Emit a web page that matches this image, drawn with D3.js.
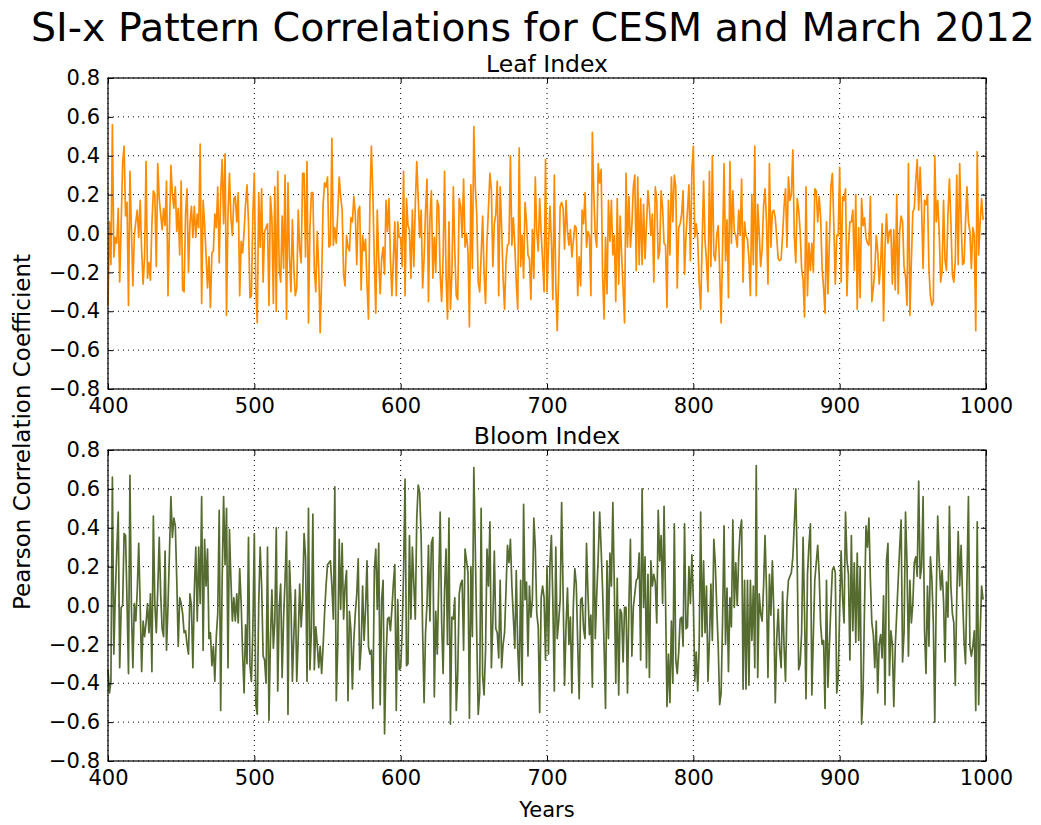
<!DOCTYPE html>
<html>
<head>
<meta charset="utf-8">
<script src="https://cdn.jsdelivr.net/npm/d3@7"></script>
<style>
  body { margin: 0; background: #fff; }
  svg text { font-family: "DejaVu Sans", sans-serif; fill: #000; }
</style>
</head>
<body>
<svg id="chart" width="1041" height="825"></svg>
<script>
// values, one per year from firstYear
const firstYear = 400;

const leafIndex = [
  -0.37, 0.06, -0.16, 0.56, -0.12, -0.02, -0.05, 0.13, -0.25, 0.05,
  0.36, 0.45, 0.09, 0.16, -0.37, 0.32, 0.02, -0.27, -0.01, 0.06,
  0.12, -0.02, 0.17, -0.09, -0.26, -0.12, 0.37, -0.23, -0.15, -0.24,
  0.05, 0.22, 0.20, -0.17, 0.36, 0.18, 0.10, 0.02, 0.13, 0.04,
  0.27, -0.32, 0.02, 0.35, 0.20, 0.13, 0.24, 0.01, 0.13, -0.11,
  0.27, -0.29, -0.30, 0.10, 0.23, -0.20, 0.05, 0.14, -0.02, 0.14,
  -0.02, 0.10, 0.03, 0.46, -0.36, 0.17, 0.05, -0.11, -0.28, -0.12,
  -0.38, -0.10, -0.09, 0.10, 0.03, 0.24, -0.15, 0.20, 0.38, 0.05,
  0.41, -0.42, 0.10, 0.31, 0.08, -0.01, 0.18, 0.19, 0.06, 0.21,
  -0.32, -0.04, -0.10, 0.01, 0.15, 0.25, 0.06, -0.33, -0.32, 0.10,
  0.31,
  -0.28, -0.46, 0.21, -0.07, 0.23, -0.25, 0.01, 0.03, 0.05, -0.37,
  0.19, 0.08, -0.36, 0.24, -0.40, 0.32, -0.18, -0.25, 0.09, -0.18,
  0.30, -0.44, 0.26, -0.12, -0.30, 0.07, -0.18, -0.32, -0.28, 0.12,
  -0.08, -0.15, 0.31, 0.31, -0.12, 0.37, -0.46, 0.03, 0.21, 0.21,
  -0.18, -0.30, 0.01, -0.18, -0.51, -0.23, 0.15, 0.26, 0.24, 0.29,
  -0.07, -0.06, 0.49, -0.06, 0.03, -0.05, 0.10, 0.29, 0.19, 0.12,
  -0.21, -0.27, -0.01, -0.07, -0.09, 0.08, 0.06, 0.19, 0.10, -0.16,
  0.12, 0.14, -0.29, -0.01, -0.09, -0.03, -0.26, -0.44, 0.17, 0.45,
  0.20, -0.14, -0.41, 0.12, -0.13, -0.31, -0.13, -0.07, -0.21, 0.17,
  0.01, 0.18, -0.13, -0.32, -0.13, 0.06,
  -0.32, 0.06, -0.02, -0.02,
  -0.17, 0.32, -0.32, 0.18, 0.04, 0.02, -0.23, 0.12, -0.17, 0.15,
  0.37, 0.18, -0.02, 0.12, -0.28, -0.13, 0.12, 0.28, -0.35, 0.08,
  0.22, -0.23, -0.02, -0.20, 0.17, 0.14, -0.21, -0.35, -0.12, 0.32,
  -0.21, -0.44, 0.06, -0.39, -0.21, 0.24, -0.09, -0.32, -0.34, 0.18,
  0.14, -0.02, 0.28, -0.07, 0.00, -0.09, -0.48, 0.25, -0.18, 0.55,
  0.24, 0.10, -0.25, -0.30, -0.11, 0.09, -0.20, -0.36, -0.04, 0.13,
  0.31, 0.22, -0.17, 0.05, 0.10, 0.27, -0.32, 0.24, 0.03, -0.23,
  -0.39, -0.14, -0.06, -0.05, 0.40, -0.06, 0.08, -0.06, -0.25, -0.39,
  0.44, -0.17, -0.01, -0.23, 0.16, 0.06, -0.11, -0.13, -0.34, 0.02,
  -0.23, 0.29, 0.01, -0.09, 0.18, 0.00, -0.14, -0.30,
  0.38, -0.30,
  -0.07, 0.14, -0.04, -0.34, 0.30, -0.26, -0.50, -0.21, 0.14, 0.16,
  0.13, -0.08, 0.17, 0.01, -0.06, 0.02, -0.12, -0.04, 0.04, 0.03,
  -0.32, -0.12, -0.27, 0.12, 0.05, 0.21, -0.07, 0.01, -0.01, -0.32,
  0.52, 0.20, -0.01, -0.07, 0.36, 0.26, 0.33, -0.21, -0.44, -0.02,
  -0.31, 0.17, -0.04, 0.17, -0.11, -0.01, -0.35, 0.18, -0.26, 0.09,
  -0.11, -0.28, -0.46, 0.31, -0.07, 0.19, -0.07, 0.04, 0.24, 0.30,
  -0.19, 0.29, -0.16, 0.18, -0.16, 0.15, -0.13, 0.05, 0.22, 0.13,
  -0.01, 0.10, -0.25, 0.24, 0.17, -0.13, -0.09, 0.22, 0.13, -0.05,
  -0.06, -0.38, 0.17, -0.11, 0.29, 0.06, 0.30, 0.24, -0.28, 0.03,
  0.05, 0.10, 0.22, -0.21, -0.01, 0.12, 0.25,
  -0.14, 0.32, 0.45,
  -0.02, 0.05, -0.03, -0.25, -0.39, -0.06, 0.27, -0.04, -0.14, -0.30,
  0.32, -0.17, 0.40, -0.11, -0.14, -0.01, 0.04, -0.19, -0.46, -0.07,
  0.36, -0.14, 0.07, -0.33, 0.37, -0.05, 0.22, 0.01, -0.01, -0.07,
  0.12, -0.01, 0.28, -0.25, 0.06, -0.01, -0.03, -0.13, -0.32, 0.20,
  -0.16, 0.45, -0.32, 0.15, 0.01, -0.17, -0.08, 0.14, 0.23, 0.06,
  -0.26, 0.36, -0.07, 0.11, 0.12, 0.08, -0.02, -0.13, -0.14, -0.13,
  -0.01, 0.14, 0.23, -0.07, 0.29, 0.17, 0.20, 0.43, -0.01, -0.15,
  0.18, 0.12, 0.01, -0.18, -0.24, -0.43, 0.24, -0.32, -0.05, -0.19,
  -0.05, -0.20, 0.23, 0.22, 0.06, 0.19, 0.08, -0.18, -0.28, -0.41,
  0.06, -0.31, -0.04, 0.24, 0.31,
  0.05, -0.26, -0.01, -0.01, 0.34,
  -0.25, 0.19, 0.17, 0.23, -0.32, -0.07, 0.06, 0.06, 0.12, -0.19,
  0.20, -0.39, 0.03, -0.33, 0.18, 0.04, 0.08, -0.02, -0.05, -0.06,
  0.19, -0.35, -0.28, -0.19, -0.01, -0.09, -0.26, -0.16, 0.05, -0.45,
  -0.07, 0.10, -0.05, 0.01, 0.02, -0.26, 0.02, -0.29, 0.20, -0.31,
  0.01, 0.09, 0.06, -0.17, -0.22, -0.37, 0.36, -0.42, -0.14, 0.11,
  0.13, 0.27, 0.38, 0.12, 0.34, 0.13, -0.18, 0.17, 0.15, 0.20,
  -0.18, -0.32, -0.37, -0.35, 0.40, 0.06, 0.17, 0.01, -0.25, -0.19,
  0.17, -0.14, -0.19, 0.10, 0.28, 0.06, -0.21, -0.25, -0.14, 0.30,
  -0.16, 0.36, 0.06, -0.16, -0.15, 0.06, 0.24, 0.06, 0.01, -0.18,
  0.03, -0.01, -0.50, 0.42, -0.11, 0.06, 0.18, 0.07
];

const bloomIndex = [
  -0.33, -0.45, -0.39, 0.66, -0.25, 0.06, 0.28, 0.48, -0.32, -0.01,
  0.00, 0.37, 0.36, 0.02, -0.35, 0.67, -0.01, -0.32, 0.01, -0.08,
  0.08, 0.32, 0.00, -0.34, -0.08, -0.16, -0.09, 0.01, -0.14, 0.06,
  -0.34, 0.46, 0.01, -0.14, 0.08, 0.35, 0.06, -0.12, -0.16, 0.28,
  -0.23, 0.00, 0.27, 0.56, 0.35, 0.45, 0.41, 0.13, -0.21, 0.04,
  0.01, -0.04, -0.14, -0.13, -0.20, -0.25, 0.06, 0.00, -0.32, 0.08,
  0.30, -0.08, 0.30, 0.01, 0.56, -0.23, 0.34, 0.10, 0.29, -0.17,
  -0.14, -0.31, -0.21, -0.39, -0.16, -0.04, 0.49, -0.54, 0.13, 0.56,
  0.21, 0.50, -0.32, 0.39, 0.13, -0.08, 0.04, -0.08, 0.06, -0.09,
  0.19, 0.01, -0.25, -0.45, -0.10, -0.30, 0.35, -0.31, -0.39, -0.12,
  0.37,
  -0.51, -0.56, 0.01, 0.30, 0.10, -0.26, -0.28, -0.40, 0.30, -0.59,
  -0.18, 0.08, -0.22, -0.08, 0.40, -0.44, -0.01, 0.11, -0.37, -0.06,
  0.13, 0.38, -0.56, 0.23, 0.03, -0.39, -0.15, 0.08, -0.39, -0.16,
  0.11, -0.11, 0.03, 0.37, 0.25, -0.39, 0.50, -0.33, -0.13, 0.47,
  -0.33, -0.11, -0.20, -0.32, -0.21, -0.35, -0.21, -0.04, 0.10, 0.21,
  0.22, 0.23, 0.10, -0.07, 0.61, -0.49, -0.21, 0.34, -0.02, 0.32,
  -0.07, 0.10, 0.18, -0.49, -0.03, -0.13, -0.43, -0.18, -0.04, 0.06,
  0.24, -0.33, -0.21, 0.10, -0.18, -0.02, 0.23, -0.21, -0.25, -0.23,
  -0.53, 0.18, 0.29, -0.02, 0.32, -0.51, 0.03, 0.13, -0.66, -0.28,
  -0.07, -0.06, -0.13, -0.02, 0.11, 0.21, -0.54, 0.03, -0.33,
  -0.32,
  -0.14, 0.18, 0.65, -0.31, -0.30, 0.36, -0.07, 0.30, 0.11, -0.07,
  0.45, 0.62, 0.58, 0.35, -0.13, -0.50, -0.14, 0.01, 0.31, -0.08,
  0.32, 0.35, -0.47, -0.03, -0.25, 0.11, 0.48, -0.08, -0.35, 0.08,
  0.29, -0.20, 0.45, -0.61, -0.06, -0.07, 0.04, -0.54, -0.35, 0.06,
  0.11, 0.13, -0.23, 0.29, 0.23, 0.17, -0.58, 0.20, -0.16, 0.71,
  0.30, -0.16, -0.56, -0.45, 0.50, -0.36, -0.46, -0.23, 0.29, 0.10,
  0.43, -0.32, -0.08, 0.28, -0.12, -0.14, -0.27, 0.13, -0.32, -0.20,
  -0.14, 0.08, 0.31, 0.22, 0.34, 0.10, -0.06, -0.22, 0.18, -0.22,
  -0.39, 0.13, -0.41, 0.52, 0.03, 0.12, -0.26, 0.10, -0.06, 0.03,
  0.45, 0.30, -0.04, -0.11, -0.55, 0.04, 0.10, 0.04,
  -0.28, 0.20,
  -0.25, 0.21, 0.36, 0.02, -0.44, 0.30, -0.17, -0.08, 0.03, 0.53,
  0.06, -0.41, -0.11, 0.09, -0.20, -0.06, -0.45, 0.00, 0.19, 0.11,
  -0.20, -0.48, 0.03, 0.04, -0.12, -0.17, 0.32, 0.06, -0.15, -0.05,
  -0.42, 0.48, -0.17, 0.06, 0.25, 0.48, 0.29, 0.08, -0.20, -0.53,
  0.23, -0.17, 0.27, 0.10, 0.53, 0.10, -0.40, 0.14, -0.46, -0.02,
  -0.04, -0.29, -0.01, -0.01, -0.45, 0.01, 0.34, -0.26, -0.01, 0.06,
  0.13, 0.14, 0.27, -0.28, 0.60, -0.01, 0.25, -0.32, 0.16, -0.37,
  0.23, 0.10, 0.16, 0.12, -0.09, 0.49, 0.23, 0.36, 0.01, 0.51,
  0.03, -0.52, -0.25, -0.50, -0.08, -0.40, 0.42, -0.28, -0.35, -0.24,
  -0.07, -0.06, -0.21, 0.42, -0.12, -0.11, 0.20,
  0.01, 0.26, 0.03,
  -0.39, -0.24, -0.44, -0.21, 0.48, -0.16, 0.23, -0.14, 0.10, -0.39,
  -0.18, 0.11, -0.18, 0.34, 0.22, -0.01, -0.21, -0.51, -0.45, -0.07,
  0.41, -0.20, 0.09, -0.34, 0.04, -0.11, 0.44, -0.01, 0.22, 0.00,
  0.25, 0.39, 0.44, -0.43, 0.13, -0.43, 0.13, -0.41, 0.13, -0.18,
  0.10, -0.32, 0.72, -0.37, 0.06, -0.04, -0.08, 0.10, 0.36, 0.08,
  -0.37, 0.16, -0.05, 0.23, -0.04, -0.50, -0.17, -0.02, -0.23, -0.32,
  0.07, -0.21, -0.39, 0.01, 0.13, 0.15, 0.17, 0.25, 0.42, 0.60,
  0.21, -0.33, -0.30, -0.14, 0.35, -0.04, -0.48, 0.16, 0.31, 0.42,
  -0.46, -0.16, 0.13, 0.22, 0.31, 0.16, -0.10, -0.20, -0.18, -0.53,
  0.13, -0.42, -0.20, 0.00, 0.18, 0.20,
  0.17, -0.45, -0.37, -0.02,
  0.28, 0.04, -0.09, 0.48, 0.23, 0.16, -0.28, 0.36, -0.13, 0.22,
  -0.19, 0.27, -0.18, 0.20, -0.61, -0.44, 0.00, 0.41, 0.30, 0.45,
  0.13, -0.09, -0.15, -0.32, -0.08, -0.45, -0.20, -0.15, -0.27, 0.05,
  -0.51, 0.23, 0.32, -0.36, -0.13, -0.20, -0.52, -0.21, -0.04, 0.13,
  0.30, 0.44, -0.29, -0.14, 0.48, 0.22, -0.26, 0.13, -0.09, 0.01,
  0.22, 0.25, 0.15, 0.64, 0.14, 0.20, 0.56, -0.13, -0.35, 0.10,
  -0.21, 0.25, 0.14, -0.09, -0.60, 0.05, 0.46, 0.23, 0.08, 0.18,
  0.02, -0.29, 0.12, -0.06, 0.51, 0.10, -0.04, -0.09, -0.41, 0.03,
  0.38, 0.10, 0.31, 0.04, -0.18, -0.30, 0.13, 0.56, -0.21, -0.26,
  -0.21, -0.13, -0.54, 0.43, -0.51, -0.14, 0.10, 0.03
];

const yearTicks = [400, 500, 600, 700, 800, 900, 1000];
const corrTicks = [-0.8, -0.6, -0.4, -0.2, 0.0, 0.2, 0.4, 0.6, 0.8];

const chartTitle = "SI-x Pattern Correlations for CESM and March 2012";
const panelTitles = ["Leaf Index", "Bloom Index"];
const panelColors = ["#ff8c00", "#556b2f"];
const xLabel = "Years";
const yLabel = "Pearson Correlation Coefficient";

const svg = d3.select("#chart");

const left = 108, plotW = 878, plotH = 311;
const tops = [78, 450];

const x = d3.scaleLinear().domain([400, 1000]).range([0, plotW]);
const y = d3.scaleLinear().domain([-0.8, 0.8]).range([plotH, 0]);

const line = d3.line()
  .x((d, i) => x(firstYear + i))
  .y(d => y(d));

svg.append("text")
  .attr("x", 533).attr("y", 40.5)
  .attr("text-anchor", "middle")
  .style("font-size", "39.5px")
  .text(chartTitle);

[leafIndex, bloomIndex].forEach(function (values, p) {
  const g = svg.append("g").attr("transform", `translate(${left},${tops[p]})`);

  // dotted grid
  g.selectAll(".gx").data(yearTicks).enter().append("line")
    .attr("x1", d => x(d)).attr("x2", d => x(d))
    .attr("y1", 0).attr("y2", plotH)
    .attr("stroke", "#000").attr("stroke-width", 1)
    .attr("stroke-dasharray", "1,4");
  g.selectAll(".gy").data(corrTicks).enter().append("line")
    .attr("x1", 0).attr("x2", plotW)
    .attr("y1", d => y(d)).attr("y2", d => y(d))
    .attr("stroke", "#000").attr("stroke-width", 1)
    .attr("stroke-dasharray", "1,4");

  g.append("path")
    .datum(values)
    .attr("fill", "none")
    .attr("stroke", panelColors[p])
    .attr("stroke-width", 1.7)
    .attr("stroke-linejoin", "round")
    .attr("d", line);

  // axes with inward ticks on all four sides
  g.append("g").call(d3.axisLeft(y).tickValues(corrTicks)
    .tickSize(-5).tickPadding(8).tickFormat(d3.format(".1f")));
  g.append("g").attr("transform", `translate(0,${plotH})`)
    .call(d3.axisBottom(x).tickValues(yearTicks).tickSize(-5).tickPadding(9).tickFormat(d3.format("d")));
  g.append("g").attr("transform", `translate(${plotW},0)`)
    .call(d3.axisRight(y).tickValues(corrTicks).tickSize(-5).tickFormat(""));
  g.append("g")
    .call(d3.axisTop(x).tickValues(yearTicks).tickSize(-5).tickFormat(""));

  g.selectAll(".domain").remove();
  g.selectAll(".tick line").attr("stroke", "#000").attr("stroke-width", 1);
  g.selectAll(".tick text").style("font-size", "21px").attr("fill", "#000")
    .style("font-family", "DejaVu Sans, sans-serif");

  g.append("rect")
    .attr("width", plotW).attr("height", plotH)
    .attr("fill", "none").attr("stroke", "#000").attr("stroke-width", 1.2);

  g.append("text")
    .attr("x", plotW / 2).attr("y", -6.5)
    .attr("text-anchor", "middle")
    .style("font-size", "23.5px")
    .text(panelTitles[p]);
});

svg.append("text")
  .attr("x", left + plotW / 2).attr("y", 817)
  .attr("text-anchor", "middle")
  .style("font-size", "21px")
  .text(xLabel);

svg.append("text")
  .attr("transform", "translate(30,432) rotate(-90)")
  .attr("text-anchor", "middle")
  .style("font-size", "23px")
  .text(yLabel);
</script>
</body>
</html>
